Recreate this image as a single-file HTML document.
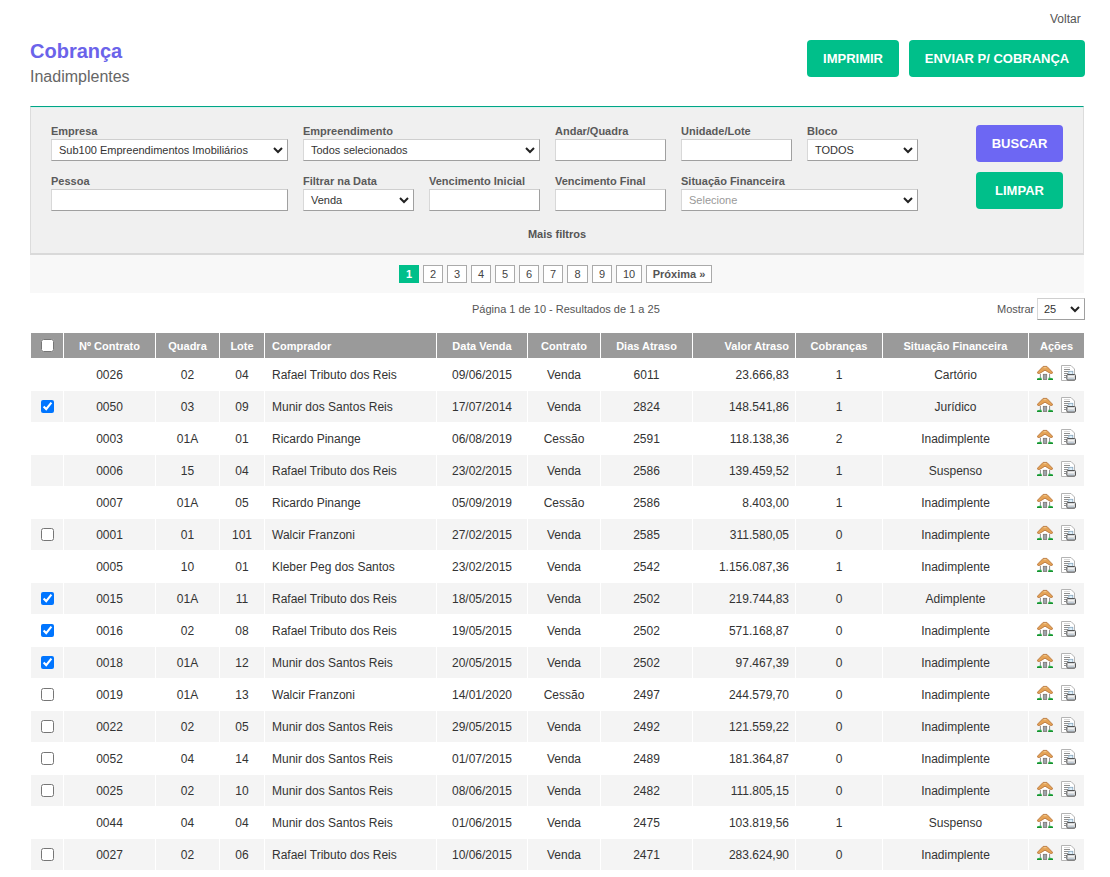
<!DOCTYPE html>
<html lang="pt-BR">
<head>
<meta charset="utf-8">
<title>Cobrança - Inadimplentes</title>
<style>
*{box-sizing:border-box;margin:0;padding:0}
html,body{width:1110px;height:877px;overflow:hidden;background:#fff}
body{position:relative;font-family:"Liberation Sans",Arial,sans-serif;color:#333}
.abs{position:absolute}
#voltar{left:1050px;top:12px;font-size:12px;line-height:14px;color:#555;white-space:nowrap}
#title{left:30px;top:39px;font-size:20px;line-height:24px;font-weight:bold;color:#6b63ea;white-space:nowrap}
#sub{left:30px;top:67px;font-size:16px;line-height:20px;color:#666;white-space:nowrap}
.btn{position:absolute;border-radius:4px;color:#fff;font-weight:bold;font-size:13px;text-align:center;white-space:nowrap}
.green{background:#00bf8a}
.purple{background:#6d67f3}
#b-imp{left:807px;top:40px;width:92px;height:37px;line-height:37px}
#b-env{left:909px;top:40px;width:176px;height:37px;line-height:37px}
#panel{left:30px;top:106px;width:1054px;height:149px;background:#f0f0f0;border-top:1px solid #00a586;box-shadow:inset 0 1px 0 #d8f3ee;border-left:1px solid #dcdcdc;border-right:1px solid #dcdcdc;border-bottom:2px solid #d9d9d9}
.lbl{position:absolute;font-size:11px;line-height:13px;font-weight:bold;color:#5a5a5a;white-space:nowrap}
.inp{position:absolute;height:22px;background:#fff;border:1px solid;border-color:#cfcfcf #a0a0a0 #a0a0a0 #d8d8d8;font-size:11px;line-height:20px;color:#333;padding-left:7px;white-space:nowrap;overflow:hidden}
.sel svg{position:absolute;right:4px;top:7px}
#bbus{left:976px;top:125px;width:87px;height:37px;line-height:37px}
#blim{left:976px;top:172px;width:87px;height:37px;line-height:37px}
#mais{left:0;width:1114px;top:228px;text-align:center;font-size:11px;line-height:13px;font-weight:bold;color:#555}
#pagstrip{left:30px;top:255px;width:1054px;height:38px;background:#f8f8f8}
.pg{position:absolute;top:265px;height:18px;line-height:16px;border:1px solid #aaa;background:#fff;font-size:11px;color:#444;text-align:center}
.pg.cur{background:#00bf8a;border-color:#00bf8a;color:#fff;font-weight:bold}
#pinfo{left:472px;top:303px;font-size:11px;line-height:13px;color:#555;white-space:nowrap}
#mostrar{left:997px;top:303px;font-size:11px;line-height:13px;color:#555}
#selqt{left:1037px;top:298px;width:48px;height:22px;font-size:11px;padding-left:6px}
table{position:absolute;left:30px;top:332px;width:1055px;border-collapse:separate;border-spacing:1px 1px;table-layout:fixed}
th{background:#9a9a9a;color:#fff;font-size:11px;font-weight:bold;height:25px;padding:0;text-align:center;white-space:nowrap}
td{height:31px;padding:0;font-size:12px;color:#333;text-align:center;white-space:nowrap}
tr.z td{background:#f4f4f4}
.l{text-align:left;padding-left:7px}
.r{text-align:right;padding-right:6px}
input[type=checkbox]{margin:0;width:13px;height:13px;vertical-align:middle;display:block;margin:0 auto}
.ac{position:relative}
.ac svg{position:absolute;top:6px}
.ac .ih{left:8px}
.ac .ip{left:31px}
</style>
</head>
<body>
<div id="voltar" class="abs">Voltar</div>
<div id="title" class="abs">Cobrança</div>
<div id="sub" class="abs">Inadimplentes</div>
<div id="b-imp" class="btn green">IMPRIMIR</div>
<div id="b-env" class="btn green">ENVIAR P/ COBRANÇA</div>

<div id="panel" class="abs"></div>
<!-- row 1 -->
<div class="lbl" style="left:51px;top:125px">Empresa</div>
<div class="inp sel" style="left:51px;top:139px;width:237px">Sub100 Empreendimentos Imobiliários<svg width="10" height="7" viewBox="0 0 10 7"><polyline points="1,1 5,5 9,1" fill="none" stroke="#222" stroke-width="2"/></svg></div>
<div class="lbl" style="left:303px;top:125px">Empreendimento</div>
<div class="inp sel" style="left:303px;top:139px;width:237px">Todos selecionados<svg width="10" height="7" viewBox="0 0 10 7"><polyline points="1,1 5,5 9,1" fill="none" stroke="#222" stroke-width="2"/></svg></div>
<div class="lbl" style="left:555px;top:125px">Andar/Quadra</div>
<div class="inp" style="left:555px;top:139px;width:111px"></div>
<div class="lbl" style="left:681px;top:125px">Unidade/Lote</div>
<div class="inp" style="left:681px;top:139px;width:111px"></div>
<div class="lbl" style="left:807px;top:125px">Bloco</div>
<div class="inp sel" style="left:807px;top:139px;width:111px">TODOS<svg width="10" height="7" viewBox="0 0 10 7"><polyline points="1,1 5,5 9,1" fill="none" stroke="#222" stroke-width="2"/></svg></div>
<!-- row 2 -->
<div class="lbl" style="left:51px;top:175px">Pessoa</div>
<div class="inp" style="left:51px;top:189px;width:237px"></div>
<div class="lbl" style="left:303px;top:175px">Filtrar na Data</div>
<div class="inp sel" style="left:303px;top:189px;width:111px">Venda<svg width="10" height="7" viewBox="0 0 10 7"><polyline points="1,1 5,5 9,1" fill="none" stroke="#222" stroke-width="2"/></svg></div>
<div class="lbl" style="left:429px;top:175px">Vencimento Inicial</div>
<div class="inp" style="left:429px;top:189px;width:111px"></div>
<div class="lbl" style="left:555px;top:175px">Vencimento Final</div>
<div class="inp" style="left:555px;top:189px;width:111px"></div>
<div class="lbl" style="left:681px;top:175px">Situação Financeira</div>
<div class="inp sel" style="left:681px;top:189px;width:237px;color:#999">Selecione<svg width="10" height="7" viewBox="0 0 10 7"><polyline points="1,1 5,5 9,1" fill="none" stroke="#222" stroke-width="2"/></svg></div>
<div id="bbus" class="btn purple">BUSCAR</div>
<div id="blim" class="btn green">LIMPAR</div>
<div id="mais" class="abs">Mais filtros</div>

<div id="pagstrip" class="abs"></div>
<div class="pg cur" style="left:399px;width:20px">1</div>
<div class="pg" style="left:423px;width:20px">2</div>
<div class="pg" style="left:447px;width:20px">3</div>
<div class="pg" style="left:471px;width:20px">4</div>
<div class="pg" style="left:495px;width:20px">5</div>
<div class="pg" style="left:519px;width:20px">6</div>
<div class="pg" style="left:543px;width:20px">7</div>
<div class="pg" style="left:567px;width:21px">8</div>
<div class="pg" style="left:592px;width:20px">9</div>
<div class="pg" style="left:616px;width:26px">10</div>
<div class="pg" style="left:646px;width:66px;font-weight:bold;color:#555">Próxima »</div>

<div id="pinfo" class="abs">Página 1 de 10 - Resultados de 1 a 25</div>
<div id="mostrar" class="abs">Mostrar</div>
<div id="selqt" class="inp sel">25<svg width="10" height="7" viewBox="0 0 10 7"><polyline points="1,1 5,5 9,1" fill="none" stroke="#222" stroke-width="2"/></svg></div>

<table>
<colgroup>
<col style="width:32px"><col style="width:91px"><col style="width:63px"><col style="width:44px"><col style="width:171px"><col style="width:90px"><col style="width:72px"><col style="width:91px"><col style="width:102px"><col style="width:86px"><col style="width:145px"><col style="width:55px">
</colgroup>
<thead><tr>
<th><input type="checkbox"></th><th>Nº Contrato</th><th>Quadra</th><th>Lote</th><th class="l">Comprador</th><th>Data Venda</th><th>Contrato</th><th>Dias Atraso</th><th class="r">Valor Atraso</th><th>Cobranças</th><th>Situação Financeira</th><th>Ações</th>
</tr></thead>
<tbody id="tb">
<tr><td></td><td>0026</td><td>02</td><td>04</td><td class="l">Rafael Tributo dos Reis</td><td>09/06/2015</td><td>Venda</td><td>6011</td><td class="r">23.666,83</td><td>1</td><td>Cartório</td><td class="ac"><svg class="ih" width="16" height="16" viewBox="0 0 16 16"><path d="M3 8 L8 5 L13 8 V14.5 H3Z" fill="#fff"/><path d="M3.4 9 V14 M12.6 9 V14" stroke="#8e8e8e"/><path d="M0.4 7.3 L6.1 1.4 H9.9 L15.6 7.3 V8 L15 8.4 H13.3 L8 5.2 L2.7 8.4 H1 L0.4 8 Z" fill="#e4a256" stroke="#b46e34" stroke-width="0.8"/><path d="M6.6 2.6 H9.4" stroke="#eec486" stroke-width="1.2"/><rect x="6.3" y="9.3" width="3.4" height="5.2" fill="#9ca4ac" stroke="#7d7470" stroke-width="0.8"/><path d="M0 13.4 Q2 12.3 4.6 12.8 V15 H0Z" fill="#2fb04c"/><path d="M16 13.4 Q14 12.3 11.4 12.8 V15 H16Z" fill="#2fb04c"/><path d="M0 14.5 H4.6 M11.4 14.5 H16" stroke="#17902f"/></svg><svg class="ip" width="17" height="16" viewBox="0 0 17 16"><path d="M1.5 0.5 H11 L14.5 4 V15.5 H1.5 Z" fill="#fff" stroke="#b4b4b4"/><path d="M4 2.5 H10" stroke="#d8d8d8"/><path d="M4 4.5 H10 M4 6.5 H10 M4 8.5 H8 M4 10.5 H7 M4 12.5 H6" stroke="#8f8f8f"/><rect x="8.8" y="6.3" width="4" height="3.4" fill="#dff0fb" stroke="#86a6be" stroke-width="0.8"/><rect x="6.8" y="9.5" width="8.7" height="5.5" rx="1" fill="#d6d8da" stroke="#555" stroke-width="1"/><path d="M8 11.6 H14" stroke="#f6f6f6" stroke-width="1"/><path d="M8.5 13.8 H13.8" stroke="#b0c4d6" stroke-width="0.8"/></svg></td></tr>
<tr class="z"><td><input type="checkbox" checked></td><td>0050</td><td>03</td><td>09</td><td class="l">Munir dos Santos Reis</td><td>17/07/2014</td><td>Venda</td><td>2824</td><td class="r">148.541,86</td><td>1</td><td>Jurídico</td><td class="ac"><svg class="ih" width="16" height="16" viewBox="0 0 16 16"><path d="M3 8 L8 5 L13 8 V14.5 H3Z" fill="#fff"/><path d="M3.4 9 V14 M12.6 9 V14" stroke="#8e8e8e"/><path d="M0.4 7.3 L6.1 1.4 H9.9 L15.6 7.3 V8 L15 8.4 H13.3 L8 5.2 L2.7 8.4 H1 L0.4 8 Z" fill="#e4a256" stroke="#b46e34" stroke-width="0.8"/><path d="M6.6 2.6 H9.4" stroke="#eec486" stroke-width="1.2"/><rect x="6.3" y="9.3" width="3.4" height="5.2" fill="#9ca4ac" stroke="#7d7470" stroke-width="0.8"/><path d="M0 13.4 Q2 12.3 4.6 12.8 V15 H0Z" fill="#2fb04c"/><path d="M16 13.4 Q14 12.3 11.4 12.8 V15 H16Z" fill="#2fb04c"/><path d="M0 14.5 H4.6 M11.4 14.5 H16" stroke="#17902f"/></svg><svg class="ip" width="17" height="16" viewBox="0 0 17 16"><path d="M1.5 0.5 H11 L14.5 4 V15.5 H1.5 Z" fill="#fff" stroke="#b4b4b4"/><path d="M4 2.5 H10" stroke="#d8d8d8"/><path d="M4 4.5 H10 M4 6.5 H10 M4 8.5 H8 M4 10.5 H7 M4 12.5 H6" stroke="#8f8f8f"/><rect x="8.8" y="6.3" width="4" height="3.4" fill="#dff0fb" stroke="#86a6be" stroke-width="0.8"/><rect x="6.8" y="9.5" width="8.7" height="5.5" rx="1" fill="#d6d8da" stroke="#555" stroke-width="1"/><path d="M8 11.6 H14" stroke="#f6f6f6" stroke-width="1"/><path d="M8.5 13.8 H13.8" stroke="#b0c4d6" stroke-width="0.8"/></svg></td></tr>
<tr><td></td><td>0003</td><td>01A</td><td>01</td><td class="l">Ricardo Pinange</td><td>06/08/2019</td><td>Cessão</td><td>2591</td><td class="r">118.138,36</td><td>2</td><td>Inadimplente</td><td class="ac"><svg class="ih" width="16" height="16" viewBox="0 0 16 16"><path d="M3 8 L8 5 L13 8 V14.5 H3Z" fill="#fff"/><path d="M3.4 9 V14 M12.6 9 V14" stroke="#8e8e8e"/><path d="M0.4 7.3 L6.1 1.4 H9.9 L15.6 7.3 V8 L15 8.4 H13.3 L8 5.2 L2.7 8.4 H1 L0.4 8 Z" fill="#e4a256" stroke="#b46e34" stroke-width="0.8"/><path d="M6.6 2.6 H9.4" stroke="#eec486" stroke-width="1.2"/><rect x="6.3" y="9.3" width="3.4" height="5.2" fill="#9ca4ac" stroke="#7d7470" stroke-width="0.8"/><path d="M0 13.4 Q2 12.3 4.6 12.8 V15 H0Z" fill="#2fb04c"/><path d="M16 13.4 Q14 12.3 11.4 12.8 V15 H16Z" fill="#2fb04c"/><path d="M0 14.5 H4.6 M11.4 14.5 H16" stroke="#17902f"/></svg><svg class="ip" width="17" height="16" viewBox="0 0 17 16"><path d="M1.5 0.5 H11 L14.5 4 V15.5 H1.5 Z" fill="#fff" stroke="#b4b4b4"/><path d="M4 2.5 H10" stroke="#d8d8d8"/><path d="M4 4.5 H10 M4 6.5 H10 M4 8.5 H8 M4 10.5 H7 M4 12.5 H6" stroke="#8f8f8f"/><rect x="8.8" y="6.3" width="4" height="3.4" fill="#dff0fb" stroke="#86a6be" stroke-width="0.8"/><rect x="6.8" y="9.5" width="8.7" height="5.5" rx="1" fill="#d6d8da" stroke="#555" stroke-width="1"/><path d="M8 11.6 H14" stroke="#f6f6f6" stroke-width="1"/><path d="M8.5 13.8 H13.8" stroke="#b0c4d6" stroke-width="0.8"/></svg></td></tr>
<tr class="z"><td></td><td>0006</td><td>15</td><td>04</td><td class="l">Rafael Tributo dos Reis</td><td>23/02/2015</td><td>Venda</td><td>2586</td><td class="r">139.459,52</td><td>1</td><td>Suspenso</td><td class="ac"><svg class="ih" width="16" height="16" viewBox="0 0 16 16"><path d="M3 8 L8 5 L13 8 V14.5 H3Z" fill="#fff"/><path d="M3.4 9 V14 M12.6 9 V14" stroke="#8e8e8e"/><path d="M0.4 7.3 L6.1 1.4 H9.9 L15.6 7.3 V8 L15 8.4 H13.3 L8 5.2 L2.7 8.4 H1 L0.4 8 Z" fill="#e4a256" stroke="#b46e34" stroke-width="0.8"/><path d="M6.6 2.6 H9.4" stroke="#eec486" stroke-width="1.2"/><rect x="6.3" y="9.3" width="3.4" height="5.2" fill="#9ca4ac" stroke="#7d7470" stroke-width="0.8"/><path d="M0 13.4 Q2 12.3 4.6 12.8 V15 H0Z" fill="#2fb04c"/><path d="M16 13.4 Q14 12.3 11.4 12.8 V15 H16Z" fill="#2fb04c"/><path d="M0 14.5 H4.6 M11.4 14.5 H16" stroke="#17902f"/></svg><svg class="ip" width="17" height="16" viewBox="0 0 17 16"><path d="M1.5 0.5 H11 L14.5 4 V15.5 H1.5 Z" fill="#fff" stroke="#b4b4b4"/><path d="M4 2.5 H10" stroke="#d8d8d8"/><path d="M4 4.5 H10 M4 6.5 H10 M4 8.5 H8 M4 10.5 H7 M4 12.5 H6" stroke="#8f8f8f"/><rect x="8.8" y="6.3" width="4" height="3.4" fill="#dff0fb" stroke="#86a6be" stroke-width="0.8"/><rect x="6.8" y="9.5" width="8.7" height="5.5" rx="1" fill="#d6d8da" stroke="#555" stroke-width="1"/><path d="M8 11.6 H14" stroke="#f6f6f6" stroke-width="1"/><path d="M8.5 13.8 H13.8" stroke="#b0c4d6" stroke-width="0.8"/></svg></td></tr>
<tr><td></td><td>0007</td><td>01A</td><td>05</td><td class="l">Ricardo Pinange</td><td>05/09/2019</td><td>Cessão</td><td>2586</td><td class="r">8.403,00</td><td>1</td><td>Inadimplente</td><td class="ac"><svg class="ih" width="16" height="16" viewBox="0 0 16 16"><path d="M3 8 L8 5 L13 8 V14.5 H3Z" fill="#fff"/><path d="M3.4 9 V14 M12.6 9 V14" stroke="#8e8e8e"/><path d="M0.4 7.3 L6.1 1.4 H9.9 L15.6 7.3 V8 L15 8.4 H13.3 L8 5.2 L2.7 8.4 H1 L0.4 8 Z" fill="#e4a256" stroke="#b46e34" stroke-width="0.8"/><path d="M6.6 2.6 H9.4" stroke="#eec486" stroke-width="1.2"/><rect x="6.3" y="9.3" width="3.4" height="5.2" fill="#9ca4ac" stroke="#7d7470" stroke-width="0.8"/><path d="M0 13.4 Q2 12.3 4.6 12.8 V15 H0Z" fill="#2fb04c"/><path d="M16 13.4 Q14 12.3 11.4 12.8 V15 H16Z" fill="#2fb04c"/><path d="M0 14.5 H4.6 M11.4 14.5 H16" stroke="#17902f"/></svg><svg class="ip" width="17" height="16" viewBox="0 0 17 16"><path d="M1.5 0.5 H11 L14.5 4 V15.5 H1.5 Z" fill="#fff" stroke="#b4b4b4"/><path d="M4 2.5 H10" stroke="#d8d8d8"/><path d="M4 4.5 H10 M4 6.5 H10 M4 8.5 H8 M4 10.5 H7 M4 12.5 H6" stroke="#8f8f8f"/><rect x="8.8" y="6.3" width="4" height="3.4" fill="#dff0fb" stroke="#86a6be" stroke-width="0.8"/><rect x="6.8" y="9.5" width="8.7" height="5.5" rx="1" fill="#d6d8da" stroke="#555" stroke-width="1"/><path d="M8 11.6 H14" stroke="#f6f6f6" stroke-width="1"/><path d="M8.5 13.8 H13.8" stroke="#b0c4d6" stroke-width="0.8"/></svg></td></tr>
<tr class="z"><td><input type="checkbox"></td><td>0001</td><td>01</td><td>101</td><td class="l">Walcir Franzoni</td><td>27/02/2015</td><td>Venda</td><td>2585</td><td class="r">311.580,05</td><td>0</td><td>Inadimplente</td><td class="ac"><svg class="ih" width="16" height="16" viewBox="0 0 16 16"><path d="M3 8 L8 5 L13 8 V14.5 H3Z" fill="#fff"/><path d="M3.4 9 V14 M12.6 9 V14" stroke="#8e8e8e"/><path d="M0.4 7.3 L6.1 1.4 H9.9 L15.6 7.3 V8 L15 8.4 H13.3 L8 5.2 L2.7 8.4 H1 L0.4 8 Z" fill="#e4a256" stroke="#b46e34" stroke-width="0.8"/><path d="M6.6 2.6 H9.4" stroke="#eec486" stroke-width="1.2"/><rect x="6.3" y="9.3" width="3.4" height="5.2" fill="#9ca4ac" stroke="#7d7470" stroke-width="0.8"/><path d="M0 13.4 Q2 12.3 4.6 12.8 V15 H0Z" fill="#2fb04c"/><path d="M16 13.4 Q14 12.3 11.4 12.8 V15 H16Z" fill="#2fb04c"/><path d="M0 14.5 H4.6 M11.4 14.5 H16" stroke="#17902f"/></svg><svg class="ip" width="17" height="16" viewBox="0 0 17 16"><path d="M1.5 0.5 H11 L14.5 4 V15.5 H1.5 Z" fill="#fff" stroke="#b4b4b4"/><path d="M4 2.5 H10" stroke="#d8d8d8"/><path d="M4 4.5 H10 M4 6.5 H10 M4 8.5 H8 M4 10.5 H7 M4 12.5 H6" stroke="#8f8f8f"/><rect x="8.8" y="6.3" width="4" height="3.4" fill="#dff0fb" stroke="#86a6be" stroke-width="0.8"/><rect x="6.8" y="9.5" width="8.7" height="5.5" rx="1" fill="#d6d8da" stroke="#555" stroke-width="1"/><path d="M8 11.6 H14" stroke="#f6f6f6" stroke-width="1"/><path d="M8.5 13.8 H13.8" stroke="#b0c4d6" stroke-width="0.8"/></svg></td></tr>
<tr><td></td><td>0005</td><td>10</td><td>01</td><td class="l">Kleber Peg dos Santos</td><td>23/02/2015</td><td>Venda</td><td>2542</td><td class="r">1.156.087,36</td><td>1</td><td>Inadimplente</td><td class="ac"><svg class="ih" width="16" height="16" viewBox="0 0 16 16"><path d="M3 8 L8 5 L13 8 V14.5 H3Z" fill="#fff"/><path d="M3.4 9 V14 M12.6 9 V14" stroke="#8e8e8e"/><path d="M0.4 7.3 L6.1 1.4 H9.9 L15.6 7.3 V8 L15 8.4 H13.3 L8 5.2 L2.7 8.4 H1 L0.4 8 Z" fill="#e4a256" stroke="#b46e34" stroke-width="0.8"/><path d="M6.6 2.6 H9.4" stroke="#eec486" stroke-width="1.2"/><rect x="6.3" y="9.3" width="3.4" height="5.2" fill="#9ca4ac" stroke="#7d7470" stroke-width="0.8"/><path d="M0 13.4 Q2 12.3 4.6 12.8 V15 H0Z" fill="#2fb04c"/><path d="M16 13.4 Q14 12.3 11.4 12.8 V15 H16Z" fill="#2fb04c"/><path d="M0 14.5 H4.6 M11.4 14.5 H16" stroke="#17902f"/></svg><svg class="ip" width="17" height="16" viewBox="0 0 17 16"><path d="M1.5 0.5 H11 L14.5 4 V15.5 H1.5 Z" fill="#fff" stroke="#b4b4b4"/><path d="M4 2.5 H10" stroke="#d8d8d8"/><path d="M4 4.5 H10 M4 6.5 H10 M4 8.5 H8 M4 10.5 H7 M4 12.5 H6" stroke="#8f8f8f"/><rect x="8.8" y="6.3" width="4" height="3.4" fill="#dff0fb" stroke="#86a6be" stroke-width="0.8"/><rect x="6.8" y="9.5" width="8.7" height="5.5" rx="1" fill="#d6d8da" stroke="#555" stroke-width="1"/><path d="M8 11.6 H14" stroke="#f6f6f6" stroke-width="1"/><path d="M8.5 13.8 H13.8" stroke="#b0c4d6" stroke-width="0.8"/></svg></td></tr>
<tr class="z"><td><input type="checkbox" checked></td><td>0015</td><td>01A</td><td>11</td><td class="l">Rafael Tributo dos Reis</td><td>18/05/2015</td><td>Venda</td><td>2502</td><td class="r">219.744,83</td><td>0</td><td>Adimplente</td><td class="ac"><svg class="ih" width="16" height="16" viewBox="0 0 16 16"><path d="M3 8 L8 5 L13 8 V14.5 H3Z" fill="#fff"/><path d="M3.4 9 V14 M12.6 9 V14" stroke="#8e8e8e"/><path d="M0.4 7.3 L6.1 1.4 H9.9 L15.6 7.3 V8 L15 8.4 H13.3 L8 5.2 L2.7 8.4 H1 L0.4 8 Z" fill="#e4a256" stroke="#b46e34" stroke-width="0.8"/><path d="M6.6 2.6 H9.4" stroke="#eec486" stroke-width="1.2"/><rect x="6.3" y="9.3" width="3.4" height="5.2" fill="#9ca4ac" stroke="#7d7470" stroke-width="0.8"/><path d="M0 13.4 Q2 12.3 4.6 12.8 V15 H0Z" fill="#2fb04c"/><path d="M16 13.4 Q14 12.3 11.4 12.8 V15 H16Z" fill="#2fb04c"/><path d="M0 14.5 H4.6 M11.4 14.5 H16" stroke="#17902f"/></svg><svg class="ip" width="17" height="16" viewBox="0 0 17 16"><path d="M1.5 0.5 H11 L14.5 4 V15.5 H1.5 Z" fill="#fff" stroke="#b4b4b4"/><path d="M4 2.5 H10" stroke="#d8d8d8"/><path d="M4 4.5 H10 M4 6.5 H10 M4 8.5 H8 M4 10.5 H7 M4 12.5 H6" stroke="#8f8f8f"/><rect x="8.8" y="6.3" width="4" height="3.4" fill="#dff0fb" stroke="#86a6be" stroke-width="0.8"/><rect x="6.8" y="9.5" width="8.7" height="5.5" rx="1" fill="#d6d8da" stroke="#555" stroke-width="1"/><path d="M8 11.6 H14" stroke="#f6f6f6" stroke-width="1"/><path d="M8.5 13.8 H13.8" stroke="#b0c4d6" stroke-width="0.8"/></svg></td></tr>
<tr><td><input type="checkbox" checked></td><td>0016</td><td>02</td><td>08</td><td class="l">Rafael Tributo dos Reis</td><td>19/05/2015</td><td>Venda</td><td>2502</td><td class="r">571.168,87</td><td>0</td><td>Inadimplente</td><td class="ac"><svg class="ih" width="16" height="16" viewBox="0 0 16 16"><path d="M3 8 L8 5 L13 8 V14.5 H3Z" fill="#fff"/><path d="M3.4 9 V14 M12.6 9 V14" stroke="#8e8e8e"/><path d="M0.4 7.3 L6.1 1.4 H9.9 L15.6 7.3 V8 L15 8.4 H13.3 L8 5.2 L2.7 8.4 H1 L0.4 8 Z" fill="#e4a256" stroke="#b46e34" stroke-width="0.8"/><path d="M6.6 2.6 H9.4" stroke="#eec486" stroke-width="1.2"/><rect x="6.3" y="9.3" width="3.4" height="5.2" fill="#9ca4ac" stroke="#7d7470" stroke-width="0.8"/><path d="M0 13.4 Q2 12.3 4.6 12.8 V15 H0Z" fill="#2fb04c"/><path d="M16 13.4 Q14 12.3 11.4 12.8 V15 H16Z" fill="#2fb04c"/><path d="M0 14.5 H4.6 M11.4 14.5 H16" stroke="#17902f"/></svg><svg class="ip" width="17" height="16" viewBox="0 0 17 16"><path d="M1.5 0.5 H11 L14.5 4 V15.5 H1.5 Z" fill="#fff" stroke="#b4b4b4"/><path d="M4 2.5 H10" stroke="#d8d8d8"/><path d="M4 4.5 H10 M4 6.5 H10 M4 8.5 H8 M4 10.5 H7 M4 12.5 H6" stroke="#8f8f8f"/><rect x="8.8" y="6.3" width="4" height="3.4" fill="#dff0fb" stroke="#86a6be" stroke-width="0.8"/><rect x="6.8" y="9.5" width="8.7" height="5.5" rx="1" fill="#d6d8da" stroke="#555" stroke-width="1"/><path d="M8 11.6 H14" stroke="#f6f6f6" stroke-width="1"/><path d="M8.5 13.8 H13.8" stroke="#b0c4d6" stroke-width="0.8"/></svg></td></tr>
<tr class="z"><td><input type="checkbox" checked></td><td>0018</td><td>01A</td><td>12</td><td class="l">Munir dos Santos Reis</td><td>20/05/2015</td><td>Venda</td><td>2502</td><td class="r">97.467,39</td><td>0</td><td>Inadimplente</td><td class="ac"><svg class="ih" width="16" height="16" viewBox="0 0 16 16"><path d="M3 8 L8 5 L13 8 V14.5 H3Z" fill="#fff"/><path d="M3.4 9 V14 M12.6 9 V14" stroke="#8e8e8e"/><path d="M0.4 7.3 L6.1 1.4 H9.9 L15.6 7.3 V8 L15 8.4 H13.3 L8 5.2 L2.7 8.4 H1 L0.4 8 Z" fill="#e4a256" stroke="#b46e34" stroke-width="0.8"/><path d="M6.6 2.6 H9.4" stroke="#eec486" stroke-width="1.2"/><rect x="6.3" y="9.3" width="3.4" height="5.2" fill="#9ca4ac" stroke="#7d7470" stroke-width="0.8"/><path d="M0 13.4 Q2 12.3 4.6 12.8 V15 H0Z" fill="#2fb04c"/><path d="M16 13.4 Q14 12.3 11.4 12.8 V15 H16Z" fill="#2fb04c"/><path d="M0 14.5 H4.6 M11.4 14.5 H16" stroke="#17902f"/></svg><svg class="ip" width="17" height="16" viewBox="0 0 17 16"><path d="M1.5 0.5 H11 L14.5 4 V15.5 H1.5 Z" fill="#fff" stroke="#b4b4b4"/><path d="M4 2.5 H10" stroke="#d8d8d8"/><path d="M4 4.5 H10 M4 6.5 H10 M4 8.5 H8 M4 10.5 H7 M4 12.5 H6" stroke="#8f8f8f"/><rect x="8.8" y="6.3" width="4" height="3.4" fill="#dff0fb" stroke="#86a6be" stroke-width="0.8"/><rect x="6.8" y="9.5" width="8.7" height="5.5" rx="1" fill="#d6d8da" stroke="#555" stroke-width="1"/><path d="M8 11.6 H14" stroke="#f6f6f6" stroke-width="1"/><path d="M8.5 13.8 H13.8" stroke="#b0c4d6" stroke-width="0.8"/></svg></td></tr>
<tr><td><input type="checkbox"></td><td>0019</td><td>01A</td><td>13</td><td class="l">Walcir Franzoni</td><td>14/01/2020</td><td>Cessão</td><td>2497</td><td class="r">244.579,70</td><td>0</td><td>Inadimplente</td><td class="ac"><svg class="ih" width="16" height="16" viewBox="0 0 16 16"><path d="M3 8 L8 5 L13 8 V14.5 H3Z" fill="#fff"/><path d="M3.4 9 V14 M12.6 9 V14" stroke="#8e8e8e"/><path d="M0.4 7.3 L6.1 1.4 H9.9 L15.6 7.3 V8 L15 8.4 H13.3 L8 5.2 L2.7 8.4 H1 L0.4 8 Z" fill="#e4a256" stroke="#b46e34" stroke-width="0.8"/><path d="M6.6 2.6 H9.4" stroke="#eec486" stroke-width="1.2"/><rect x="6.3" y="9.3" width="3.4" height="5.2" fill="#9ca4ac" stroke="#7d7470" stroke-width="0.8"/><path d="M0 13.4 Q2 12.3 4.6 12.8 V15 H0Z" fill="#2fb04c"/><path d="M16 13.4 Q14 12.3 11.4 12.8 V15 H16Z" fill="#2fb04c"/><path d="M0 14.5 H4.6 M11.4 14.5 H16" stroke="#17902f"/></svg><svg class="ip" width="17" height="16" viewBox="0 0 17 16"><path d="M1.5 0.5 H11 L14.5 4 V15.5 H1.5 Z" fill="#fff" stroke="#b4b4b4"/><path d="M4 2.5 H10" stroke="#d8d8d8"/><path d="M4 4.5 H10 M4 6.5 H10 M4 8.5 H8 M4 10.5 H7 M4 12.5 H6" stroke="#8f8f8f"/><rect x="8.8" y="6.3" width="4" height="3.4" fill="#dff0fb" stroke="#86a6be" stroke-width="0.8"/><rect x="6.8" y="9.5" width="8.7" height="5.5" rx="1" fill="#d6d8da" stroke="#555" stroke-width="1"/><path d="M8 11.6 H14" stroke="#f6f6f6" stroke-width="1"/><path d="M8.5 13.8 H13.8" stroke="#b0c4d6" stroke-width="0.8"/></svg></td></tr>
<tr class="z"><td><input type="checkbox"></td><td>0022</td><td>02</td><td>05</td><td class="l">Munir dos Santos Reis</td><td>29/05/2015</td><td>Venda</td><td>2492</td><td class="r">121.559,22</td><td>0</td><td>Inadimplente</td><td class="ac"><svg class="ih" width="16" height="16" viewBox="0 0 16 16"><path d="M3 8 L8 5 L13 8 V14.5 H3Z" fill="#fff"/><path d="M3.4 9 V14 M12.6 9 V14" stroke="#8e8e8e"/><path d="M0.4 7.3 L6.1 1.4 H9.9 L15.6 7.3 V8 L15 8.4 H13.3 L8 5.2 L2.7 8.4 H1 L0.4 8 Z" fill="#e4a256" stroke="#b46e34" stroke-width="0.8"/><path d="M6.6 2.6 H9.4" stroke="#eec486" stroke-width="1.2"/><rect x="6.3" y="9.3" width="3.4" height="5.2" fill="#9ca4ac" stroke="#7d7470" stroke-width="0.8"/><path d="M0 13.4 Q2 12.3 4.6 12.8 V15 H0Z" fill="#2fb04c"/><path d="M16 13.4 Q14 12.3 11.4 12.8 V15 H16Z" fill="#2fb04c"/><path d="M0 14.5 H4.6 M11.4 14.5 H16" stroke="#17902f"/></svg><svg class="ip" width="17" height="16" viewBox="0 0 17 16"><path d="M1.5 0.5 H11 L14.5 4 V15.5 H1.5 Z" fill="#fff" stroke="#b4b4b4"/><path d="M4 2.5 H10" stroke="#d8d8d8"/><path d="M4 4.5 H10 M4 6.5 H10 M4 8.5 H8 M4 10.5 H7 M4 12.5 H6" stroke="#8f8f8f"/><rect x="8.8" y="6.3" width="4" height="3.4" fill="#dff0fb" stroke="#86a6be" stroke-width="0.8"/><rect x="6.8" y="9.5" width="8.7" height="5.5" rx="1" fill="#d6d8da" stroke="#555" stroke-width="1"/><path d="M8 11.6 H14" stroke="#f6f6f6" stroke-width="1"/><path d="M8.5 13.8 H13.8" stroke="#b0c4d6" stroke-width="0.8"/></svg></td></tr>
<tr><td><input type="checkbox"></td><td>0052</td><td>04</td><td>14</td><td class="l">Munir dos Santos Reis</td><td>01/07/2015</td><td>Venda</td><td>2489</td><td class="r">181.364,87</td><td>0</td><td>Inadimplente</td><td class="ac"><svg class="ih" width="16" height="16" viewBox="0 0 16 16"><path d="M3 8 L8 5 L13 8 V14.5 H3Z" fill="#fff"/><path d="M3.4 9 V14 M12.6 9 V14" stroke="#8e8e8e"/><path d="M0.4 7.3 L6.1 1.4 H9.9 L15.6 7.3 V8 L15 8.4 H13.3 L8 5.2 L2.7 8.4 H1 L0.4 8 Z" fill="#e4a256" stroke="#b46e34" stroke-width="0.8"/><path d="M6.6 2.6 H9.4" stroke="#eec486" stroke-width="1.2"/><rect x="6.3" y="9.3" width="3.4" height="5.2" fill="#9ca4ac" stroke="#7d7470" stroke-width="0.8"/><path d="M0 13.4 Q2 12.3 4.6 12.8 V15 H0Z" fill="#2fb04c"/><path d="M16 13.4 Q14 12.3 11.4 12.8 V15 H16Z" fill="#2fb04c"/><path d="M0 14.5 H4.6 M11.4 14.5 H16" stroke="#17902f"/></svg><svg class="ip" width="17" height="16" viewBox="0 0 17 16"><path d="M1.5 0.5 H11 L14.5 4 V15.5 H1.5 Z" fill="#fff" stroke="#b4b4b4"/><path d="M4 2.5 H10" stroke="#d8d8d8"/><path d="M4 4.5 H10 M4 6.5 H10 M4 8.5 H8 M4 10.5 H7 M4 12.5 H6" stroke="#8f8f8f"/><rect x="8.8" y="6.3" width="4" height="3.4" fill="#dff0fb" stroke="#86a6be" stroke-width="0.8"/><rect x="6.8" y="9.5" width="8.7" height="5.5" rx="1" fill="#d6d8da" stroke="#555" stroke-width="1"/><path d="M8 11.6 H14" stroke="#f6f6f6" stroke-width="1"/><path d="M8.5 13.8 H13.8" stroke="#b0c4d6" stroke-width="0.8"/></svg></td></tr>
<tr class="z"><td><input type="checkbox"></td><td>0025</td><td>02</td><td>10</td><td class="l">Munir dos Santos Reis</td><td>08/06/2015</td><td>Venda</td><td>2482</td><td class="r">111.805,15</td><td>0</td><td>Inadimplente</td><td class="ac"><svg class="ih" width="16" height="16" viewBox="0 0 16 16"><path d="M3 8 L8 5 L13 8 V14.5 H3Z" fill="#fff"/><path d="M3.4 9 V14 M12.6 9 V14" stroke="#8e8e8e"/><path d="M0.4 7.3 L6.1 1.4 H9.9 L15.6 7.3 V8 L15 8.4 H13.3 L8 5.2 L2.7 8.4 H1 L0.4 8 Z" fill="#e4a256" stroke="#b46e34" stroke-width="0.8"/><path d="M6.6 2.6 H9.4" stroke="#eec486" stroke-width="1.2"/><rect x="6.3" y="9.3" width="3.4" height="5.2" fill="#9ca4ac" stroke="#7d7470" stroke-width="0.8"/><path d="M0 13.4 Q2 12.3 4.6 12.8 V15 H0Z" fill="#2fb04c"/><path d="M16 13.4 Q14 12.3 11.4 12.8 V15 H16Z" fill="#2fb04c"/><path d="M0 14.5 H4.6 M11.4 14.5 H16" stroke="#17902f"/></svg><svg class="ip" width="17" height="16" viewBox="0 0 17 16"><path d="M1.5 0.5 H11 L14.5 4 V15.5 H1.5 Z" fill="#fff" stroke="#b4b4b4"/><path d="M4 2.5 H10" stroke="#d8d8d8"/><path d="M4 4.5 H10 M4 6.5 H10 M4 8.5 H8 M4 10.5 H7 M4 12.5 H6" stroke="#8f8f8f"/><rect x="8.8" y="6.3" width="4" height="3.4" fill="#dff0fb" stroke="#86a6be" stroke-width="0.8"/><rect x="6.8" y="9.5" width="8.7" height="5.5" rx="1" fill="#d6d8da" stroke="#555" stroke-width="1"/><path d="M8 11.6 H14" stroke="#f6f6f6" stroke-width="1"/><path d="M8.5 13.8 H13.8" stroke="#b0c4d6" stroke-width="0.8"/></svg></td></tr>
<tr><td></td><td>0044</td><td>04</td><td>04</td><td class="l">Munir dos Santos Reis</td><td>01/06/2015</td><td>Venda</td><td>2475</td><td class="r">103.819,56</td><td>1</td><td>Suspenso</td><td class="ac"><svg class="ih" width="16" height="16" viewBox="0 0 16 16"><path d="M3 8 L8 5 L13 8 V14.5 H3Z" fill="#fff"/><path d="M3.4 9 V14 M12.6 9 V14" stroke="#8e8e8e"/><path d="M0.4 7.3 L6.1 1.4 H9.9 L15.6 7.3 V8 L15 8.4 H13.3 L8 5.2 L2.7 8.4 H1 L0.4 8 Z" fill="#e4a256" stroke="#b46e34" stroke-width="0.8"/><path d="M6.6 2.6 H9.4" stroke="#eec486" stroke-width="1.2"/><rect x="6.3" y="9.3" width="3.4" height="5.2" fill="#9ca4ac" stroke="#7d7470" stroke-width="0.8"/><path d="M0 13.4 Q2 12.3 4.6 12.8 V15 H0Z" fill="#2fb04c"/><path d="M16 13.4 Q14 12.3 11.4 12.8 V15 H16Z" fill="#2fb04c"/><path d="M0 14.5 H4.6 M11.4 14.5 H16" stroke="#17902f"/></svg><svg class="ip" width="17" height="16" viewBox="0 0 17 16"><path d="M1.5 0.5 H11 L14.5 4 V15.5 H1.5 Z" fill="#fff" stroke="#b4b4b4"/><path d="M4 2.5 H10" stroke="#d8d8d8"/><path d="M4 4.5 H10 M4 6.5 H10 M4 8.5 H8 M4 10.5 H7 M4 12.5 H6" stroke="#8f8f8f"/><rect x="8.8" y="6.3" width="4" height="3.4" fill="#dff0fb" stroke="#86a6be" stroke-width="0.8"/><rect x="6.8" y="9.5" width="8.7" height="5.5" rx="1" fill="#d6d8da" stroke="#555" stroke-width="1"/><path d="M8 11.6 H14" stroke="#f6f6f6" stroke-width="1"/><path d="M8.5 13.8 H13.8" stroke="#b0c4d6" stroke-width="0.8"/></svg></td></tr>
<tr class="z"><td><input type="checkbox"></td><td>0027</td><td>02</td><td>06</td><td class="l">Rafael Tributo dos Reis</td><td>10/06/2015</td><td>Venda</td><td>2471</td><td class="r">283.624,90</td><td>0</td><td>Inadimplente</td><td class="ac"><svg class="ih" width="16" height="16" viewBox="0 0 16 16"><path d="M3 8 L8 5 L13 8 V14.5 H3Z" fill="#fff"/><path d="M3.4 9 V14 M12.6 9 V14" stroke="#8e8e8e"/><path d="M0.4 7.3 L6.1 1.4 H9.9 L15.6 7.3 V8 L15 8.4 H13.3 L8 5.2 L2.7 8.4 H1 L0.4 8 Z" fill="#e4a256" stroke="#b46e34" stroke-width="0.8"/><path d="M6.6 2.6 H9.4" stroke="#eec486" stroke-width="1.2"/><rect x="6.3" y="9.3" width="3.4" height="5.2" fill="#9ca4ac" stroke="#7d7470" stroke-width="0.8"/><path d="M0 13.4 Q2 12.3 4.6 12.8 V15 H0Z" fill="#2fb04c"/><path d="M16 13.4 Q14 12.3 11.4 12.8 V15 H16Z" fill="#2fb04c"/><path d="M0 14.5 H4.6 M11.4 14.5 H16" stroke="#17902f"/></svg><svg class="ip" width="17" height="16" viewBox="0 0 17 16"><path d="M1.5 0.5 H11 L14.5 4 V15.5 H1.5 Z" fill="#fff" stroke="#b4b4b4"/><path d="M4 2.5 H10" stroke="#d8d8d8"/><path d="M4 4.5 H10 M4 6.5 H10 M4 8.5 H8 M4 10.5 H7 M4 12.5 H6" stroke="#8f8f8f"/><rect x="8.8" y="6.3" width="4" height="3.4" fill="#dff0fb" stroke="#86a6be" stroke-width="0.8"/><rect x="6.8" y="9.5" width="8.7" height="5.5" rx="1" fill="#d6d8da" stroke="#555" stroke-width="1"/><path d="M8 11.6 H14" stroke="#f6f6f6" stroke-width="1"/><path d="M8.5 13.8 H13.8" stroke="#b0c4d6" stroke-width="0.8"/></svg></td></tr>
</tbody>
</table>
</body>
</html>
